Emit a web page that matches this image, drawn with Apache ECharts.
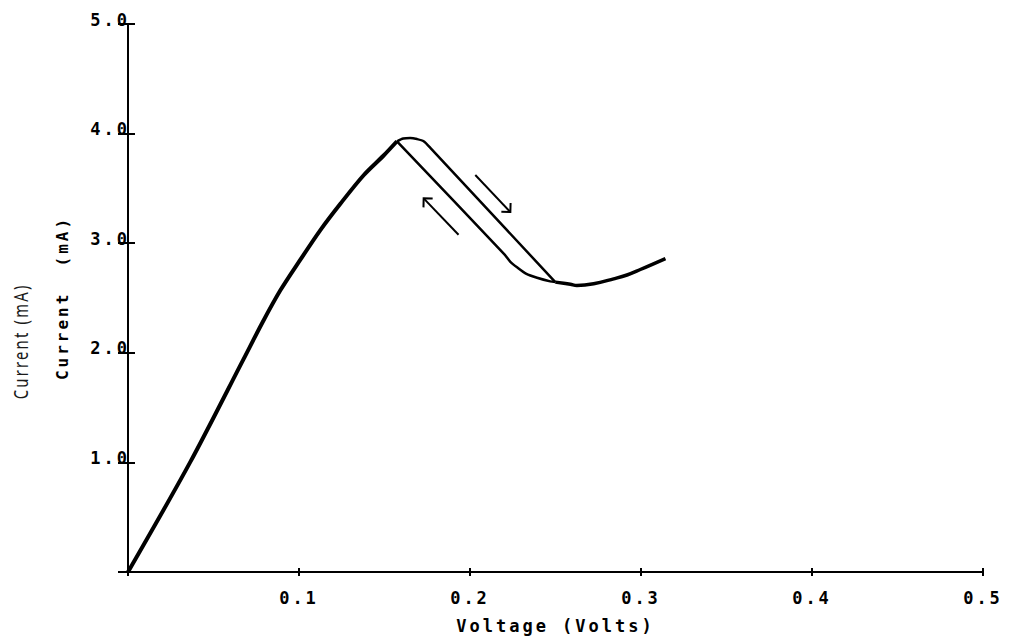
<!DOCTYPE html>
<html>
<head>
<meta charset="utf-8">
<script src="https://cdn.jsdelivr.net/npm/echarts@6/dist/echarts.min.js"></script>
<style>
  html, body { margin: 0; padding: 0; background: #ffffff; }
  #chart { width: 1009px; height: 636px; letter-spacing: 3px; }
</style>
</head>
<body>
<div id="chart"></div>
<script>
// ---- data ----
// common rising branch (forward & reverse overlap): 0 V -> peak
const riseV = [0, 0.0363, 0.0675, 0.0784, 0.0891, 0.1008, 0.1125, 0.1242, 0.1378, 0.1495, 0.1573];
const riseI = [0, 1.00, 1.94, 2.27, 2.57, 2.85, 3.12, 3.36, 3.62, 3.80, 3.93];
// forward sweep over the peak and down the upper line to the valley
const fwdV = [0.1573, 0.1610, 0.1650, 0.1690, 0.1729, 0.1768, 0.2499];
const fwdI = [3.93, 3.955, 3.96, 3.95, 3.93, 3.87, 2.645];
// reverse sweep: lower line from valley back up to peak
const revV = [0.2499, 0.2469, 0.2392, 0.2330, 0.2275, 0.2236, 0.2200, 0.1573];
const revI = [2.645, 2.652, 2.685, 2.72, 2.78, 2.83, 2.90, 3.93];
// common branch beyond the valley
const tailV = [0.2499, 0.2587, 0.2625, 0.2723, 0.2840, 0.2918, 0.2996, 0.3143];
const tailI = [2.645, 2.625, 2.615, 2.63, 2.675, 2.71, 2.76, 2.86];
// direction arrows [fromV, fromI, toV, toI]
const arrowFwd = [0.2031, 3.622, 0.2236, 3.285];
const arrowRev = [0.1933, 3.077, 0.1729, 3.409];
// tick labels
const xTickLabels = ['', '0.1', '0.2', '0.3', '0.4', '0.5'];
const yTickLabels = ['', '1.0', '2.0', '3.0', '4.0', '5.0'];

const zip = (a, b) => a.map((v, i) => [v, b[i]]);

const FONT = '"DejaVu Sans Mono", "Liberation Mono", monospace';
const chart = echarts.init(document.getElementById('chart'), null, { renderer: 'svg' });

const xBase = {
  type: 'value', min: 0, max: 0.5, interval: 0.1,
  splitLine: { show: false }
};
const yBase = {
  type: 'value', min: 0, max: 5, interval: 1,
  splitLine: { show: false }
};

chart.setOption({
  backgroundColor: '#ffffff',
  animation: false,
  grid: { left: 128, right: 26, top: 24, bottom: 64, containLabel: false, outerBoundsMode: 'none' },
  xAxis: [
    Object.assign({}, xBase, {
      position: 'bottom',
      name: 'Voltage (Volts)', nameLocation: 'middle', nameGap: 45,
      nameTextStyle: { color: '#000', fontFamily: FONT, fontWeight: 'bold', fontSize: 17 },
      axisLine: { lineStyle: { color: '#000', width: 2 } },
      axisTick: { show: true, length: 4, lineStyle: { color: '#000', width: 2 } },
      axisLabel: {
        color: '#000', fontFamily: FONT, fontWeight: 'bold', fontSize: 17, margin: 17,
        formatter: (v) => xTickLabels[Math.round(v * 10)]
      }
    }),
    Object.assign({}, xBase, {
      position: 'bottom',
      axisLine: { show: false },
      axisTick: { show: true, inside: true, length: 4, lineStyle: { color: '#000', width: 2 } },
      axisLabel: { show: false }
    })
  ],
  yAxis: [
    Object.assign({}, yBase, {
      position: 'left',
      name: 'Current  (mA)', nameLocation: 'middle', nameGap: 58,
      nameTextStyle: { color: '#000', fontFamily: FONT, fontWeight: 'bold', fontSize: 16 },
      axisLine: { lineStyle: { color: '#000', width: 2 } },
      axisTick: { show: true, length: 10, lineStyle: { color: '#000', width: 2 } },
      axisLabel: {
        color: '#000', fontFamily: FONT, fontWeight: 'bold', fontSize: 17, margin: -2,
        verticalAlign: 'bottom', lineHeight: 9,
        formatter: (v) => yTickLabels[Math.round(v)]
      }
    }),
    Object.assign({}, yBase, {
      position: 'left',
      axisLine: { show: false },
      axisTick: { show: true, inside: true, length: 7, lineStyle: { color: '#000', width: 2 } },
      axisLabel: { show: false }
    })
  ],
  graphic: [{
    type: 'text',
    left: 10, top: 310,
    rotation: Math.PI / 2,
    scaleX: 0.74,
    style: {
      text: 'Current (mA)',
      fill: '#1a1a1a',
      font: '20px "Noto Sans", "DejaVu Sans", sans-serif'
    }
  }],
  series: [
    {
      type: 'line', data: zip(riseV, riseI), showSymbol: false, smooth: 0.3,
      lineStyle: { color: '#000', width: 4 }, z: 5
    },
    {
      type: 'line', data: zip(fwdV, fwdI), showSymbol: false, smooth: 0.25,
      lineStyle: { color: '#000', width: 2.5 }, z: 4
    },
    {
      type: 'line', data: zip(revV, revI), showSymbol: false, smooth: 0.25,
      lineStyle: { color: '#000', width: 2.5 }, z: 4
    },
    {
      type: 'line', data: zip(tailV, tailI), showSymbol: false, smooth: 0.4,
      lineStyle: { color: '#000', width: 3.5 }, z: 5
    },
    {
      type: 'custom',
      data: [arrowFwd, arrowRev],
      encode: { x: [0, 2], y: [1, 3] },
      renderItem: function (params, api) {
        const p1 = api.coord([api.value(0), api.value(1)]);
        const p2 = api.coord([api.value(2), api.value(3)]);
        const ang = Math.atan2(p2[1] - p1[1], p2[0] - p1[0]);
        const L = 9, spread = Math.PI / 4;
        const b1 = [p2[0] - L * Math.cos(ang - spread), p2[1] - L * Math.sin(ang - spread)];
        const b2 = [p2[0] - L * Math.cos(ang + spread), p2[1] - L * Math.sin(ang + spread)];
        const st = { stroke: '#000', lineWidth: 2, fill: null };
        return {
          type: 'group',
          children: [
            { type: 'polyline', shape: { points: [p1, p2] }, style: st },
            { type: 'polyline', shape: { points: [b1, p2, b2] }, style: st }
          ]
        };
      },
      z: 6
    }
  ]
});
</script>
</body>
</html>
